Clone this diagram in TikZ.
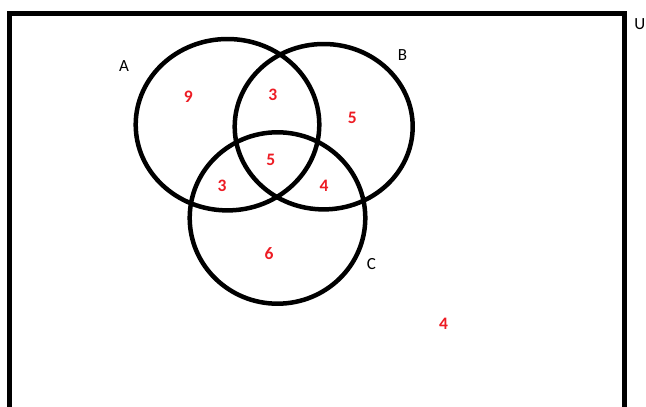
\documentclass[tikz,border=0pt]{standalone}
\usepackage{fontspec}
\setmainfont{Carlito}
\usetikzlibrary{positioning}
\usepackage{xcolor}
\definecolor{paintred}{HTML}{ED1C24}

\begin{document}
\begin{tikzpicture}[
  x=1pt, y=-1pt,
  set/.style={draw=black, line width=4.5pt},
  frame/.style={draw=black, line width=5pt},
  lab/.style={font=\fontsize{17}{17}\selectfont, text=black, inner sep=0pt},
  num/.style={font=\fontsize{17.5}{17.5}\selectfont\bfseries, text=paintred, inner sep=0pt}
]
\useasboundingbox (0,0) rectangle (646,407);
\clip (0,0) rectangle (646,407);

% universe
\draw[frame] (9.5,430) -- (9.5,13.5) -- (624,13.5) -- (624,430);
\node[lab, anchor=east] (U) at (645.5,24) {U};

% the three sets
\draw[set] (227.5,124.7) ellipse [x radius=91.8, y radius=85.7];
\draw[set] (323.7,126.7) ellipse [x radius=89, y radius=82.7];
\draw[set] (277.5,218) ellipse [x radius=87.8, y radius=85.7];

\node[lab] (A) at (124,66) {A};
\node[lab] (B) at (402.5,55.5) {B};
\node[lab] (C) at (371.5,264) {C};

% region counts
\node[num] (onlyA) at (188.3,97) {9};
\node[num] (AB) at (272.7,95) {3};
\node[num] (onlyB) at (352.3,118.3) {5};
\node[num] (ABC) at (270.7,160) {5};
\node[num] (AC) at (222,185.5) {3};
\node[num] (BC) at (324,185.5) {4};
\node[num] (onlyC) at (269,253.5) {6};
\node[num] (none) at (443.5,323.5) {4};

\end{tikzpicture}
\end{document}
